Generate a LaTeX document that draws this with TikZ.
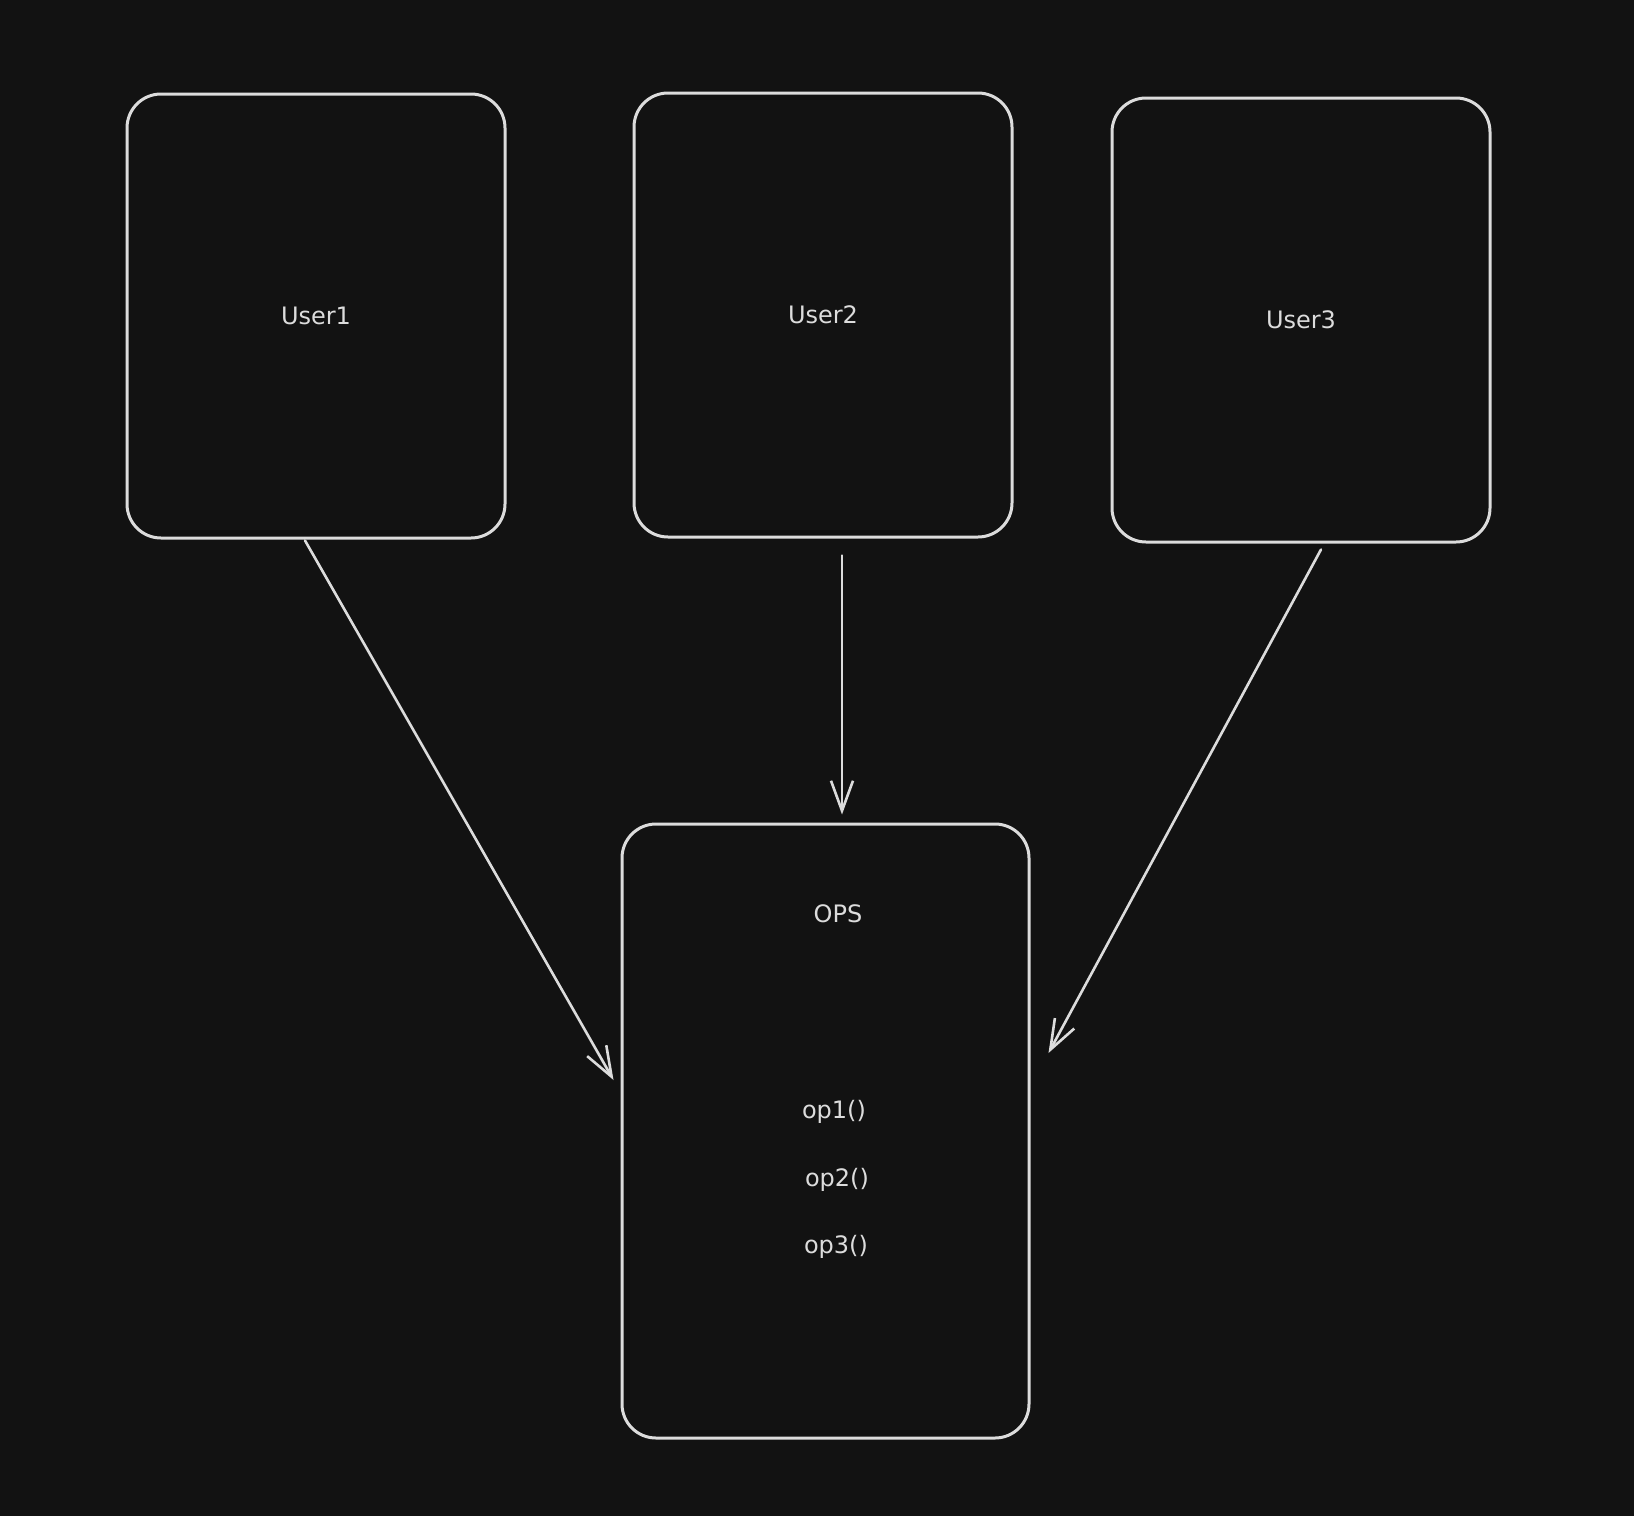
\documentclass[tikz,border=0pt]{standalone}
\usepackage{fontspec}
\setmainfont{DejaVu Sans}
\usetikzlibrary{arrows.meta,calc}
\definecolor{bg}{HTML}{121212}
\definecolor{ink}{HTML}{DCDCDC}
\begin{document}
\begin{tikzpicture}[x=1pt,y=-1pt,
  box/.style={draw=ink, line width=3pt, rounded corners=34pt, fill=bg, text=ink, font=\fontsize{24}{28}\selectfont, inner sep=0pt},
  lbl/.style={text=ink, font=\fontsize{24}{28}\selectfont, inner sep=0pt},
  arr/.style={draw=ink, line width=2.6pt, line cap=round, -{Straight Barb[length=30pt,width=22pt,line width=2.6pt]}}]
\fill[bg] (0,0) rectangle (1634,1516);
\useasboundingbox (0,0) rectangle (1634,1516);
\node[box, minimum width=378pt, minimum height=444pt] (u1) at (316,316) {User1};
\node[box, minimum width=378pt, minimum height=444pt] (u2) at (823,315) {User2};
\node[box, minimum width=378pt, minimum height=444pt] (u3) at (1301,320) {User3};
\node[box, minimum width=407pt, minimum height=614pt] (ops) at (825.5,1131) {};
\node[lbl] (opst) at (838,914) {OPS};
\node[lbl] (op1) at (834,1112) {op1()};
\node[lbl] (op2) at (837,1180) {op2()};
\node[lbl] (op3) at (836,1247) {op3()};
\draw[arr] ($(u1.south)+(-11,1)$) -- ($(ops.west)+(-7,-51)$);
\draw[arr] ($(u2.south)+(19,17)$) -- ($(ops.north)+(16.5,-8)$);
\draw[arr] ($(u3.south)+(20,6)$) -- ($(ops.east)+(18,-78)$);
\end{tikzpicture}
\end{document}
